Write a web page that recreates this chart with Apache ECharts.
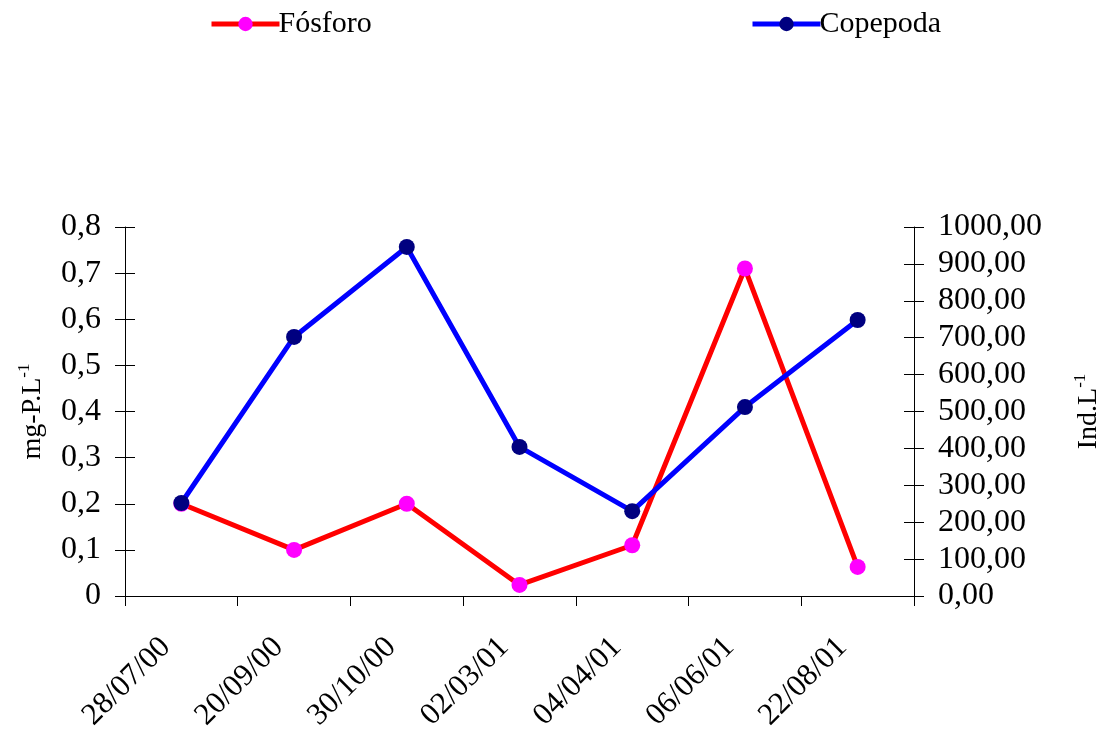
<!DOCTYPE html>
<html><head><meta charset="utf-8">
<script src="https://cdn.jsdelivr.net/npm/echarts@6/dist/echarts.min.js"></script>
<style>html,body{margin:0;padding:0;background:#fff}#c{width:1106px;height:735px}</style>
</head><body><div id="c"></div>
<script>
const categories = ['28/07/00','20/09/00','30/10/00','02/03/01','04/04/01','06/06/01','22/08/01'];
const fosforo = [0.2, 0.1, 0.2, 0.024, 0.11, 0.71, 0.063];
const copepoda = [252, 702, 946, 404, 230, 512, 748];
const leftTicks = {min: 0, max: 0.8, interval: 0.1};
const rightTicks = {min: 0, max: 1000, interval: 100};

const FONT = '"Liberation Serif", "Times New Roman", serif';
const chart = echarts.init(document.getElementById('c'));
const lbl = {fontFamily: FONT, fontSize: 32, color: '#000'};
const axLine = {show: true, lineStyle: {color: '#000', width: 1}};
const legText = {fontFamily: FONT, fontSize: 30, color: '#000', padding: [0,0,0,-6]};
chart.setOption({
  animation: false,
  backgroundColor: '#fff',
  textStyle: {fontFamily: FONT},
  legend: [
    {data: ['Fósforo'], left: 204, top: 4, itemWidth: 68, itemHeight: 18, itemGap: 4,
     lineStyle: {width: 5}, textStyle: legText},
    {data: ['Copepoda'], left: 745, top: 4, itemWidth: 68, itemHeight: 18, itemGap: 4,
     lineStyle: {width: 5}, textStyle: legText}
  ],
  grid: {left: 125, right: 192, top: 227, bottom: 139, containLabel: false, outerBoundsMode: 'none'},
  xAxis: {
    type: 'category', data: categories, boundaryGap: true,
    axisLine: axLine,
    axisTick: {show: true, length: 10, lineStyle: {color: '#000'}},
    axisLabel: Object.assign({rotate: 45, margin: 31, interval: 0, padding: [0, 22, 0, 0]}, lbl, {fontSize: 31}),
    splitLine: {show: false}
  },
  yAxis: [
    {type: 'value', position: 'left', min: leftTicks.min, max: leftTicks.max, interval: leftTicks.interval,
     axisLine: axLine, axisTick: {show: true, length: 10, lineStyle: {color: '#000'}},
     axisLabel: Object.assign({margin: 24, formatter: v => v === 0 ? '0' : v.toFixed(1).replace('.', ',')}, lbl),
     splitLine: {show: false},
     name: '{b|mg-P.L}{s|-1}', nameLocation: 'middle', nameRotate: 90, nameGap: 76,
     nameTextStyle: {rich: {b: {fontFamily: FONT, fontSize: 28, color: '#000'}, s: {fontFamily: FONT, fontSize: 17, color: '#000', verticalAlign: 'top', padding: [0,0,16,0]}}}},
    {type: 'value', position: 'right', min: rightTicks.min, max: rightTicks.max, interval: rightTicks.interval,
     axisLine: axLine, axisTick: {show: true, length: 10, lineStyle: {color: '#000'}},
     axisLabel: Object.assign({margin: 24, formatter: v => v.toFixed(2).replace('.', ',')}, lbl),
     splitLine: {show: false},
     name: '{b|Ind.L}{s|-1}', nameLocation: 'middle', nameRotate: 90, nameGap: 158,
     nameTextStyle: {rich: {b: {fontFamily: FONT, fontSize: 28, color: '#000'}, s: {fontFamily: FONT, fontSize: 17, color: '#000', verticalAlign: 'top', padding: [0,0,16,0]}}}},
    {type: 'value', position: 'left', offset: 0, min: leftTicks.min, max: leftTicks.max, interval: leftTicks.interval,
     axisLine: {show: false}, axisLabel: {show: false}, splitLine: {show: false},
     axisTick: {show: true, inside: true, length: 10, lineStyle: {color: '#000'}}},
    {type: 'value', position: 'right', offset: 0, min: rightTicks.min, max: rightTicks.max, interval: rightTicks.interval,
     axisLine: {show: false}, axisLabel: {show: false}, splitLine: {show: false},
     axisTick: {show: true, inside: true, length: 10, lineStyle: {color: '#000'}}}
  ],
  series: [
    {name: 'Fósforo', type: 'line', yAxisIndex: 0, data: fosforo,
     lineStyle: {color: '#ff0000', width: 5}, itemStyle: {color: '#ff00ff'},
     symbol: 'circle', symbolSize: 16, showAllSymbol: true, z: 2},
    {name: 'Copepoda', type: 'line', yAxisIndex: 1, data: copepoda,
     lineStyle: {color: '#0000ff', width: 5}, itemStyle: {color: '#000080'},
     symbol: 'circle', symbolSize: 16, showAllSymbol: true, z: 3}
  ]
});
</script></body></html>
